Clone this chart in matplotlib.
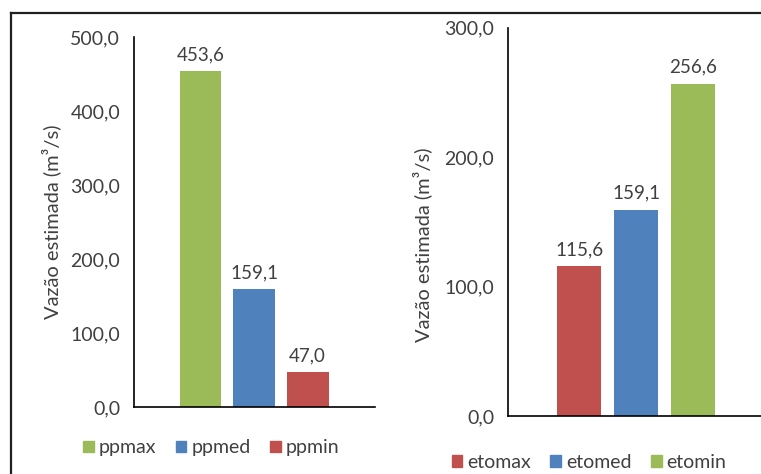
import matplotlib
matplotlib.use("Agg")
import matplotlib.pyplot as plt
from matplotlib.patches import Patch
from matplotlib.lines import Line2D

# vazão estimada por cenário de precipitação
pp_labels = ["ppmax", "ppmed", "ppmin"]
pp_values = [453.6, 159.1, 47.0]

# vazão estimada por cenário de evapotranspiração
eto_labels = ["etomax", "etomed", "etomin"]
eto_values = [115.6, 159.1, 256.6]

GREEN = "#9BBB59"
BLUE = "#4F81BD"
RED = "#C0504D"

pp_colors = [GREEN, BLUE, RED]
eto_colors = [RED, BLUE, GREEN]

plt.rcParams["font.family"] = ["Lato", "DejaVu Sans"]
TXT = "#404040"


def fmt(v):
    return f"{v:.1f}".replace(".", ",")


def bar_panel(ax, labels, values, colors, ymax, step, xlim):
    x = range(len(values))
    bars = ax.bar(x, values, width=0.78, color=colors)
    for b, v in zip(bars, values):
        ax.annotate(fmt(v), (b.get_x() + b.get_width() / 2, v),
                    xytext=(0, 6), textcoords="offset points",
                    ha="center", va="bottom", fontsize=13.5, color=TXT)
    ax.set_ylim(0, ymax)
    ax.set_xlim(*xlim)
    ax.set_yticks([i * step for i in range(int(ymax / step) + 1)])
    ax.set_yticklabels([fmt(t) for t in ax.get_yticks()])
    ax.set_xticks([])
    ax.tick_params(axis="y", length=0, labelsize=14, labelcolor=TXT, pad=10)
    for s in ("top", "right"):
        ax.spines[s].set_visible(False)
    for s in ("left", "bottom"):
        ax.spines[s].set_color("#000000")
        ax.spines[s].set_linewidth(1.2)
    ax.set_ylabel("Vazão estimada (m³/s)", fontsize=14.5, color=TXT)
    return [Patch(color=c, label=l) for c, l in zip(colors, labels)]


fig = plt.figure(figsize=(7.61, 4.74), dpi=100)

ax1 = fig.add_axes([0.176, 0.141, 0.317, 0.781])
h1 = bar_panel(ax1, pp_labels, pp_values, pp_colors, 500, 100, (-1.24, 3.26))
ax1.yaxis.set_label_coords(-0.30, 0.5)
ax1.legend(handles=h1, ncol=3, frameon=False, loc="center",
           bbox_to_anchor=(0.32, -0.11), fontsize=14, handlelength=0.55,
           handleheight=0.55, handletextpad=0.25, columnspacing=1.0,
           labelcolor=TXT)

ax2 = fig.add_axes([0.6675, 0.1224, 0.3325, 0.819])
h2 = bar_panel(ax2, eto_labels, eto_values, eto_colors, 300, 100, (-1.255, 3.2))
ax2.yaxis.set_label_coords(-0.30, 0.44)
ax2.legend(handles=h2, ncol=3, frameon=False, loc="center",
           bbox_to_anchor=(0.32, -0.12), fontsize=14, handlelength=0.55,
           handleheight=0.55, handletextpad=0.25, columnspacing=1.0,
           labelcolor=TXT)

# moldura externa (topo e lateral esquerda)
fig.add_artist(Line2D([11 / 761, 1], [1 - 13 / 474, 1 - 13 / 474],
                      color="#202020", lw=1.6))
fig.add_artist(Line2D([11 / 761, 11 / 761], [0, 1 - 13 / 474],
                      color="#202020", lw=1.6))

fig.savefig("out.png", dpi=100)
